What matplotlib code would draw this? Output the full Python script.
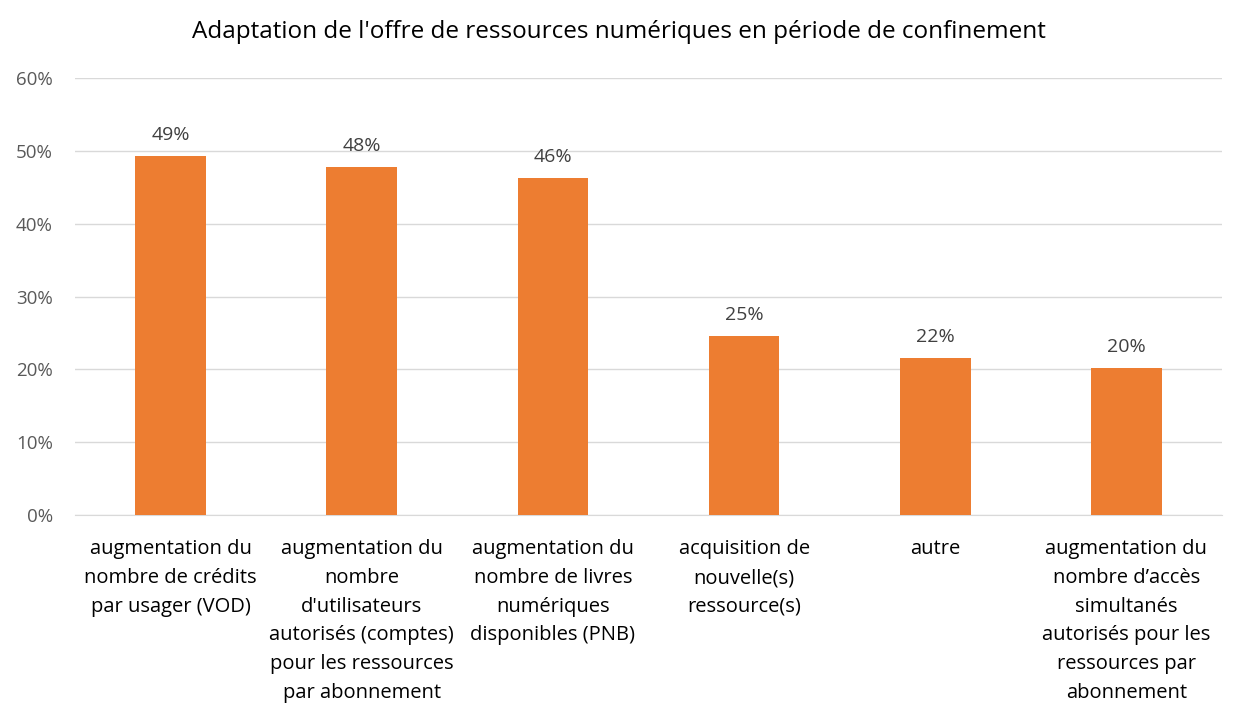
import matplotlib.pyplot as plt
from matplotlib.ticker import PercentFormatter

categories = [
    "augmentation du\nnombre de crédits\npar usager (VOD)",
    "augmentation du\nnombre\nd'utilisateurs\nautorisés (comptes)\npour les ressources\npar abonnement",
    "augmentation du\nnombre de livres\nnumériques\ndisponibles (PNB)",
    "acquisition de\nnouvelle(s)\nressource(s)",
    "autre",
    "augmentation du\nnombre d’accès\nsimultanés\nautorisés pour les\nressources par\nabonnement",
]
values = [0.493, 0.478, 0.463, 0.246, 0.216, 0.202]
labels = ["49%", "48%", "46%", "25%", "22%", "20%"]

plt.rcParams["font.family"] = ["Open Sans", "DejaVu Sans"]
text_color = "#595959"

fig = plt.figure(figsize=(12.37, 7.05), dpi=100)
ax = fig.add_axes([75 / 1237, 190 / 705, 1147 / 1237, 437 / 705])

x = range(len(categories))
bars = ax.bar(x, values, width=0.37, color="#ED7D31", zorder=3)
for bar, lab in zip(bars, labels):
    ax.text(bar.get_x() + bar.get_width() / 2, bar.get_height() + 0.016, lab,
            ha="center", va="bottom", fontsize=14, color="#404040")

ax.set_xlim(-0.5, len(categories) - 0.5)
ax.set_ylim(0, 0.6)
ax.set_yticks([i / 10 for i in range(7)])
ax.yaxis.set_major_formatter(PercentFormatter(1.0, decimals=0))
ax.set_xticks(list(x))
ax.set_xticklabels(categories, fontsize=14.5, color="#000000", linespacing=1.58)
ax.tick_params(axis="y", labelsize=13.5, labelcolor=text_color, length=0, pad=16)
ax.tick_params(axis="x", length=0, pad=17.5)
ax.grid(axis="y", color="#D9D9D9", linewidth=1, zorder=0)
for side in ["top", "right", "left"]:
    ax.spines[side].set_visible(False)
ax.spines["bottom"].set_color("#D9D9D9")

fig.text(0.5, 0.955, "Adaptation de l'offre de ressources numériques en période de confinement",
         ha="center", va="center", fontsize=17.5, color="#000000")

fig.savefig("out.png", dpi=100)
